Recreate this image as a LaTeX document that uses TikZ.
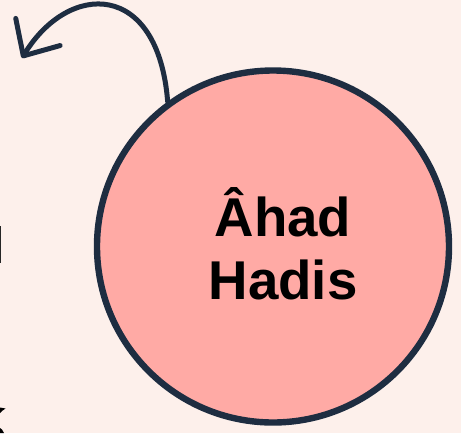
\documentclass[tikz,border=0pt]{standalone}
\usepackage{fontspec}
\setmainfont{Liberation Sans}
\usetikzlibrary{arrows.meta,positioning}
\definecolor{bgpink}{HTML}{FDF0EB}
\definecolor{blobpink}{HTML}{FFAAA5}
\definecolor{ink}{HTML}{1E2D41}

\begin{document}
\begin{tikzpicture}[
  x=0.75pt, y=-0.75pt,
  blob/.style={circle, draw=ink, line width=4.8pt, fill=blobpink,
               minimum size=264pt, inner sep=0pt},
  lbl/.style={font=\fontsize{41}{47.25}\selectfont\bfseries, align=center,
              inner sep=0pt},
  swoosh/.style={draw=ink, line width=3.75pt, line cap=round,
                 -{Straight Barb[length=21pt, width=39pt, round]}}
]
\fill[bgpink] (0,0) rectangle (461,433);
\useasboundingbox (0,0) rectangle (461,433);

% cut-off marks at the left edge
\fill[black!85] (0,226) rectangle (1.5,263);
\fill[black] (0,407.5) -- (5.5,408.5) -- (2,411) -- (0,413) -- cycle;
\fill[black] (0,428) -- (2,429.5) -- (4,433) -- (0,433) -- cycle;

\node[blob] (ahad) at (273,246.5) {};
\node[lbl] (ahadlbl) at (283,244) {Âhad\\Hadis};

\coordinate (tip) at (22,58);
\draw[swoosh] (ahad.126) .. controls (158,-20) and (68.8,-18.5) .. (tip);
\end{tikzpicture}
\end{document}
